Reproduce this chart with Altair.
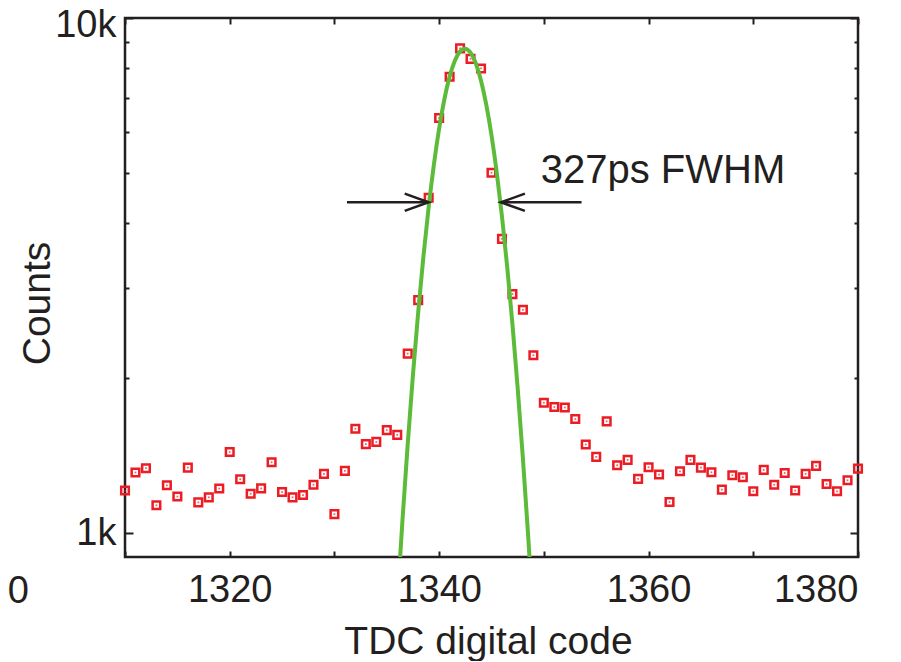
import altair as alt
import pandas as pd

FONT = "Liberation Sans"
INK = "#231f20"
RED = "#ec1c24"
GREEN = "#5dbb3a"

# measured TDC histogram (counts per digital code)
codes = list(range(1310, 1381))
counts = [1211, 1313, 1338, 1134, 1240, 1179, 1342, 1149, 1175, 1222,
          1439, 1274, 1194, 1223, 1374, 1203, 1175, 1187, 1243, 1305,
          1090, 1322, 1596, 1490, 1505, 1586, 1553, 2233, 2836, 4479,
          6397, 7690, 8730, 8333, 7981, 5009, 3727, 2913, 2716, 2217,
          1793, 1759, 1755, 1667, 1488, 1408, 1650, 1356, 1389, 1276,
          1344, 1301, 1151, 1320, 1389, 1342, 1314, 1216, 1297, 1285,
          1207, 1328, 1243, 1310, 1211, 1305, 1352, 1247, 1207, 1268, 1336]

# fitted curve
fit_code = [1336.0, 1336.5, 1337.0, 1337.5, 1338.0, 1338.5, 1339.0, 1339.5,
            1340.0, 1340.5, 1341.0, 1341.5, 1342.0, 1342.45, 1343.0, 1343.5,
            1344.0, 1344.5, 1345.0, 1345.5, 1346.0, 1346.5, 1347.0, 1347.5,
            1348.0, 1348.5, 1349.0]
fit_counts = [735, 1062, 1491, 2032, 2687, 3448, 4297, 5198,
              6103, 6956, 7696, 8264, 8615, 8720, 8565, 8167,
              7559, 6792, 5924, 5016, 4122, 3288, 2546, 1914,
              1397, 990, 680]

# FWHM arrows
arrow_start = [1331.2, 1353.6]
arrow_tip = [1339.0, 1345.9]
arrow_level = [4390, 4390]
arrow_shape = ["M-1,-0.36L0,0L-1,0.36", "M1,-0.36L0,0L1,0.36"]

# annotation texts
note_text = ["327ps FWHM", "0"]
note_code = [1349.7, 1299.8]
note_counts = [4782, 734]
note_align = ["left", "center"]

x_label_values = [1320, 1340, 1360, 1380]
x_tick_values = [1310, 1320, 1330, 1340, 1350, 1360, 1370, 1380]
y_major = [1000, 10000]
y_minor = [2000, 3000, 4000, 5000, 6000, 7000, 8000, 9000]

pts = pd.DataFrame({"code": codes, "count": counts})
fit = pd.DataFrame({"code": fit_code, "count": fit_counts})
arrows = pd.DataFrame({"x1": arrow_start, "x2": arrow_tip, "y": arrow_level, "shape": arrow_shape})
notes = pd.DataFrame({"code": note_code, "count": note_counts, "text": note_text, "align": note_align})

xs = alt.Scale(domain=[1310, 1380], nice=False, zero=False)
ys = alt.Scale(type="log", domain=[900, 10000], nice=False)

x_lab_axis = alt.Axis(values=x_label_values, format="d", ticks=False, tickSize=0, domain=False, grid=False,
                      labelFont=FONT, labelFontSize=38, labelColor=INK, labelPadding=14,
                      title="TDC digital code", titleFont=FONT, titleFontSize=39, titleFontWeight="normal",
                      titleColor=INK, titleX=363, titleY=96, titleBaseline="alphabetic", titleAlign="center")
y_lab_axis = alt.Axis(values=[1000], labelExpr="'1k'",
                      ticks=False, tickSize=0, domain=False, grid=False,
                      labelFont=FONT, labelFontSize=38, labelColor=INK, labelPadding=9,
                      title="Counts", titleFont=FONT, titleFontSize=39, titleFontWeight="normal",
                      titleColor=INK, titleX=-76, titleY=285, titleAngle=270,
                      titleBaseline="alphabetic", titleAlign="center")
y_top_axis = alt.Axis(orient="left", values=[10000], labelExpr="'10k'",
                      ticks=False, tickSize=0, domain=False, grid=False,
                      labelFont=FONT, labelFontSize=38, labelColor=INK, labelPadding=9,
                      labelOffset=7, title=None)


def tick_axis(orient, values, size):
    return alt.Axis(orient=orient, values=values, labels=False, domain=False, grid=False,
                    ticks=True, tickSize=size, offset=-size, tickWidth=2, tickColor=INK, title=None)


points = alt.Chart(pts).mark_point(shape="square", filled=False, size=58, strokeWidth=2.5, color=RED, opacity=1).encode(
    x=alt.X("code:Q", scale=xs, axis=x_lab_axis),
    y=alt.Y("count:Q", scale=ys, axis=y_lab_axis),
)
dots = alt.Chart(pts).mark_point(shape="square", filled=True, size=3, color=RED, opacity=0.7).encode(
    x=alt.X("code:Q", scale=xs, axis=None),
    y=alt.Y("count:Q", scale=ys, axis=None),
)
curve = alt.Chart(fit).mark_line(color=GREEN, strokeWidth=4, interpolate="monotone", clip=True).encode(
    x=alt.X("code:Q", scale=xs, axis=None),
    y=alt.Y("count:Q", scale=ys, axis=None),
)
arrow_lines = alt.Chart(arrows).mark_rule(color=INK, strokeWidth=2.5).encode(
    x=alt.X("x1:Q", scale=xs, axis=None),
    x2="x2:Q",
    y=alt.Y("y:Q", scale=ys, axis=None),
)
arrow_heads = alt.Chart(arrows).mark_point(filled=False, size=2300, strokeWidth=2.5, color=INK, opacity=1).encode(
    x=alt.X("x2:Q", scale=xs, axis=None),
    y=alt.Y("y:Q", scale=ys, axis=None),
    shape=alt.Shape("shape:N", scale=None),
)
note1 = alt.Chart(notes).transform_filter("datum.align == 'left'").mark_text(
    align="left", baseline="alphabetic", font=FONT, fontSize=40, color=INK).encode(
    x=alt.X("code:Q", scale=xs, axis=None),
    y=alt.Y("count:Q", scale=ys, axis=None),
    text="text:N",
)
note2 = alt.Chart(notes).transform_filter("datum.align == 'center'").mark_text(
    align="center", baseline="alphabetic", font=FONT, fontSize=38, color=INK).encode(
    x=alt.X("code:Q", scale=xs, axis=None),
    y=alt.Y("count:Q", scale=ys, axis=None),
    text="text:N",
)


def tick_layer(x_axis, y_axis):
    return alt.Chart(pts).mark_point(opacity=0).encode(
        x=alt.X("code:Q", scale=xs, axis=x_axis),
        y=alt.Y("count:Q", scale=ys, axis=y_axis),
    )


t1 = tick_layer(tick_axis("bottom", x_tick_values, 6), tick_axis("left", y_major, 8))
t2 = tick_layer(tick_axis("top", x_tick_values, 6), tick_axis("left", y_minor, 4))
t3 = tick_layer(None, tick_axis("right", y_major, 8))
t4 = tick_layer(None, tick_axis("right", y_minor, 4))
t5 = tick_layer(None, y_top_axis)

chart = alt.layer(points, dots, curve, arrow_lines, arrow_heads, note1, note2, t1, t2, t3, t4, t5).resolve_axis(
    x="independent", y="independent"
).properties(
    width=733, height=539,
    autosize=alt.AutoSizeParams(type="none"),
    padding={"left": 117, "top": 10, "right": 35, "bottom": 104},
    background="white",
).configure_view(stroke=INK, strokeWidth=2.5)

chart.save("out.html", embed_options={"renderer": "svg", "actions": False})
